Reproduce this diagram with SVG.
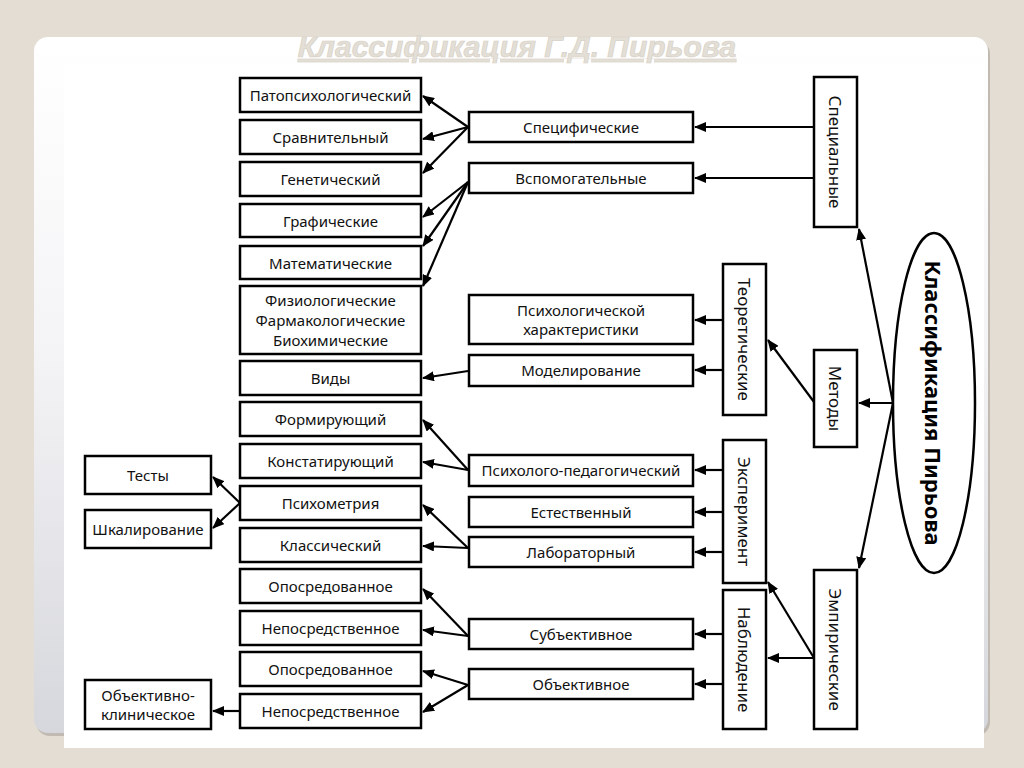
<svg xmlns="http://www.w3.org/2000/svg" width="1024" height="768" viewBox="0 0 1024 768">
<defs>
<linearGradient id="pg" x1="0" y1="0" x2="0" y2="1">
<stop offset="0" stop-color="#ffffff"/>
<stop offset="0.45" stop-color="#f4f4f6"/>
<stop offset="1" stop-color="#d6d7dc"/>
</linearGradient>
<marker id="ah" viewBox="0 0 12 10" refX="11" refY="5" markerWidth="12" markerHeight="10" markerUnits="userSpaceOnUse" orient="auto">
<path d="M0,0 L12,5 L0,10 Z" fill="#000"/>
</marker>
<style>
.b{fill:#fff;stroke:#000;stroke-width:2.5}
.t{font-family:"Noto Sans","DejaVu Sans",sans-serif;font-size:15px;fill:#111;text-anchor:middle;dominant-baseline:central}
.v{font-family:"Noto Sans","DejaVu Sans",sans-serif;font-size:17px;fill:#111;text-anchor:middle;dominant-baseline:central}
.c line{stroke:#000;stroke-width:2.2;marker-end:url(#ah)}
</style>
</defs>
<rect width="1024" height="768" fill="#e3ddd3"/>
<rect x="36" y="40" width="954" height="696" rx="14" fill="#a8a49c" opacity="0.6"/>
<rect x="34" y="37" width="954" height="696" rx="14" fill="url(#pg)"/>
<rect x="64" y="64" width="920" height="684" fill="#fff"/>
<text x="517" y="57" font-family="Liberation Sans,sans-serif" font-size="30" font-weight="bold" font-style="italic" fill="#e4dfd6" stroke="#d6d0c6" stroke-width="0.7" text-anchor="middle" text-decoration="underline">Классификация Г.Д. Пирьова</text>

<g id="root"><ellipse cx="934" cy="403" rx="41" ry="170" fill="#fff" stroke="#000" stroke-width="2.5"/>
<text transform="translate(934,403) rotate(90)" font-family="Noto Sans,DejaVu Sans,sans-serif" font-size="22" font-weight="bold" text-anchor="middle" dominant-baseline="central">Классификация Пирьова</text></g>

<g id="spec-v"><rect class="b" x="814" y="77" width="43" height="150"/><text class="v" transform="translate(835.5,152) rotate(90)">Специальные</text></g>
<g id="teor"><rect class="b" x="723" y="264" width="43" height="151"/><text class="v" transform="translate(744.5,339.5) rotate(90)">Теоретические</text></g>
<g id="metody"><rect class="b" x="814" y="350" width="43" height="97"/><text class="v" transform="translate(835.5,398.5) rotate(90)">Методы</text></g>
<g id="eksp"><rect class="b" x="723" y="440" width="43" height="143"/><text class="v" transform="translate(744.5,511.5) rotate(90)">Эксперимент</text></g>
<g id="nabl"><rect class="b" x="723" y="590" width="43" height="139"/><text class="v" transform="translate(744.5,659.5) rotate(90)">Наблюдение</text></g>
<g id="empir"><rect class="b" x="814" y="570" width="43" height="159"/><text class="v" transform="translate(835.5,649.5) rotate(90)">Эмпирические</text></g>

<g id="m1"><rect class="b" x="469" y="112" width="224" height="30"/><text class="t" x="581" y="127">Специфические</text></g>
<g id="m2"><rect class="b" x="469" y="163" width="224" height="30"/><text class="t" x="581" y="178">Вспомогательные</text></g>
<g id="m3"><rect class="b" x="469" y="295" width="224" height="49"/><text class="t" x="581" y="310">Психологической</text><text class="t" x="581" y="329">характеристики</text></g>
<g id="m4"><rect class="b" x="469" y="355" width="224" height="31"/><text class="t" x="581" y="370">Моделирование</text></g>
<g id="m5"><rect class="b" x="469" y="455" width="224" height="31"/><text class="t" x="581" y="470">Психолого-педагогический</text></g>
<g id="m6"><rect class="b" x="469" y="497" width="224" height="30"/><text class="t" x="581" y="512">Естественный</text></g>
<g id="m7"><rect class="b" x="469" y="537" width="224" height="30"/><text class="t" x="581" y="552">Лабораторный</text></g>
<g id="m8"><rect class="b" x="469" y="619" width="224" height="30"/><text class="t" x="581" y="634">Субъективное</text></g>
<g id="m9"><rect class="b" x="469" y="669" width="224" height="30"/><text class="t" x="581" y="684">Объективное</text></g>

<g id="l1"><rect class="b" x="240" y="78" width="181" height="34"/><text class="t" x="330.5" y="95">Патопсихологический</text></g>
<g id="l2"><rect class="b" x="240" y="120" width="181" height="34"/><text class="t" x="330.5" y="137">Сравнительный</text></g>
<g id="l3"><rect class="b" x="240" y="162" width="181" height="34"/><text class="t" x="330.5" y="179">Генетический</text></g>
<g id="l4"><rect class="b" x="240" y="204" width="181" height="33"/><text class="t" x="330.5" y="220.5">Графические</text></g>
<g id="l5"><rect class="b" x="240" y="246" width="181" height="33"/><text class="t" x="330.5" y="262.5">Математические</text></g>
<g id="l6"><rect class="b" x="240" y="286" width="181" height="68"/><text class="t" x="330.5" y="300">Физиологические</text><text class="t" x="330.5" y="320">Фармакологические</text><text class="t" x="330.5" y="340">Биохимические</text></g>
<g id="l7"><rect class="b" x="240" y="361" width="181" height="34"/><text class="t" x="330.5" y="378">Виды</text></g>
<g id="l8"><rect class="b" x="240" y="402" width="181" height="34"/><text class="t" x="330.5" y="419">Формирующий</text></g>
<g id="l9"><rect class="b" x="240" y="444" width="181" height="34"/><text class="t" x="330.5" y="461">Констатирующий</text></g>
<g id="l10"><rect class="b" x="240" y="486" width="181" height="34"/><text class="t" x="330.5" y="503">Психометрия</text></g>
<g id="l11"><rect class="b" x="240" y="528" width="181" height="34"/><text class="t" x="330.5" y="545">Классический</text></g>
<g id="l12"><rect class="b" x="240" y="569" width="181" height="34"/><text class="t" x="330.5" y="586">Опосредованное</text></g>
<g id="l13"><rect class="b" x="240" y="611" width="181" height="34"/><text class="t" x="330.5" y="628">Непосредственное</text></g>
<g id="l14"><rect class="b" x="240" y="652" width="181" height="34"/><text class="t" x="330.5" y="669">Опосредованное</text></g>
<g id="l15"><rect class="b" x="240" y="694" width="181" height="34"/><text class="t" x="330.5" y="711">Непосредственное</text></g>

<g id="f1"><rect class="b" x="85" y="456" width="126" height="38"/><text class="t" x="148" y="475">Тесты</text></g>
<g id="f2"><rect class="b" x="85" y="510" width="126" height="38"/><text class="t" x="148" y="529">Шкалирование</text></g>
<g id="f3"><rect class="b" x="85" y="680" width="126" height="49"/><text class="t" x="148" y="695" font-family="Liberation Serif,serif" font-size="16">Объективно-</text><text class="t" x="148" y="714" font-family="Liberation Serif,serif" font-size="16">клиническое</text></g>

<g id="connectors" class="c">
<line x1="893" y1="403" x2="859" y2="229"/>
<line x1="893" y1="403" x2="859" y2="403"/>
<line x1="893" y1="403" x2="859" y2="568"/>
<line x1="814" y1="402" x2="768" y2="340"/>
<line x1="814" y1="658" x2="768" y2="582"/>
<line x1="814" y1="658" x2="768" y2="658"/>
<line x1="814" y1="127" x2="695" y2="127"/>
<line x1="814" y1="178" x2="695" y2="178"/>
<line x1="723" y1="320" x2="695" y2="320"/>
<line x1="723" y1="370" x2="695" y2="370"/>
<line x1="723" y1="470" x2="695" y2="470"/>
<line x1="723" y1="512" x2="695" y2="512"/>
<line x1="723" y1="552" x2="695" y2="552"/>
<line x1="723" y1="634" x2="695" y2="634"/>
<line x1="723" y1="684" x2="695" y2="684"/>
<line x1="468" y1="127" x2="423" y2="96"/>
<line x1="468" y1="127" x2="423" y2="139"/>
<line x1="468" y1="127" x2="423" y2="173"/>
<line x1="468" y1="182" x2="423" y2="217"/>
<line x1="468" y1="182" x2="423" y2="246"/>
<line x1="468" y1="182" x2="423" y2="286"/>
<line x1="468" y1="371" x2="423" y2="378"/>
<line x1="468" y1="470" x2="423" y2="420"/>
<line x1="468" y1="470" x2="423" y2="462"/>
<line x1="468" y1="548" x2="423" y2="505"/>
<line x1="468" y1="548" x2="423" y2="546"/>
<line x1="468" y1="636" x2="423" y2="589"/>
<line x1="468" y1="636" x2="423" y2="630"/>
<line x1="468" y1="685" x2="423" y2="671"/>
<line x1="468" y1="685" x2="423" y2="712"/>
<line x1="240" y1="503" x2="213" y2="477"/>
<line x1="240" y1="503" x2="213" y2="528"/>
<line x1="240" y1="711" x2="213" y2="711"/>
</g>
</svg>
